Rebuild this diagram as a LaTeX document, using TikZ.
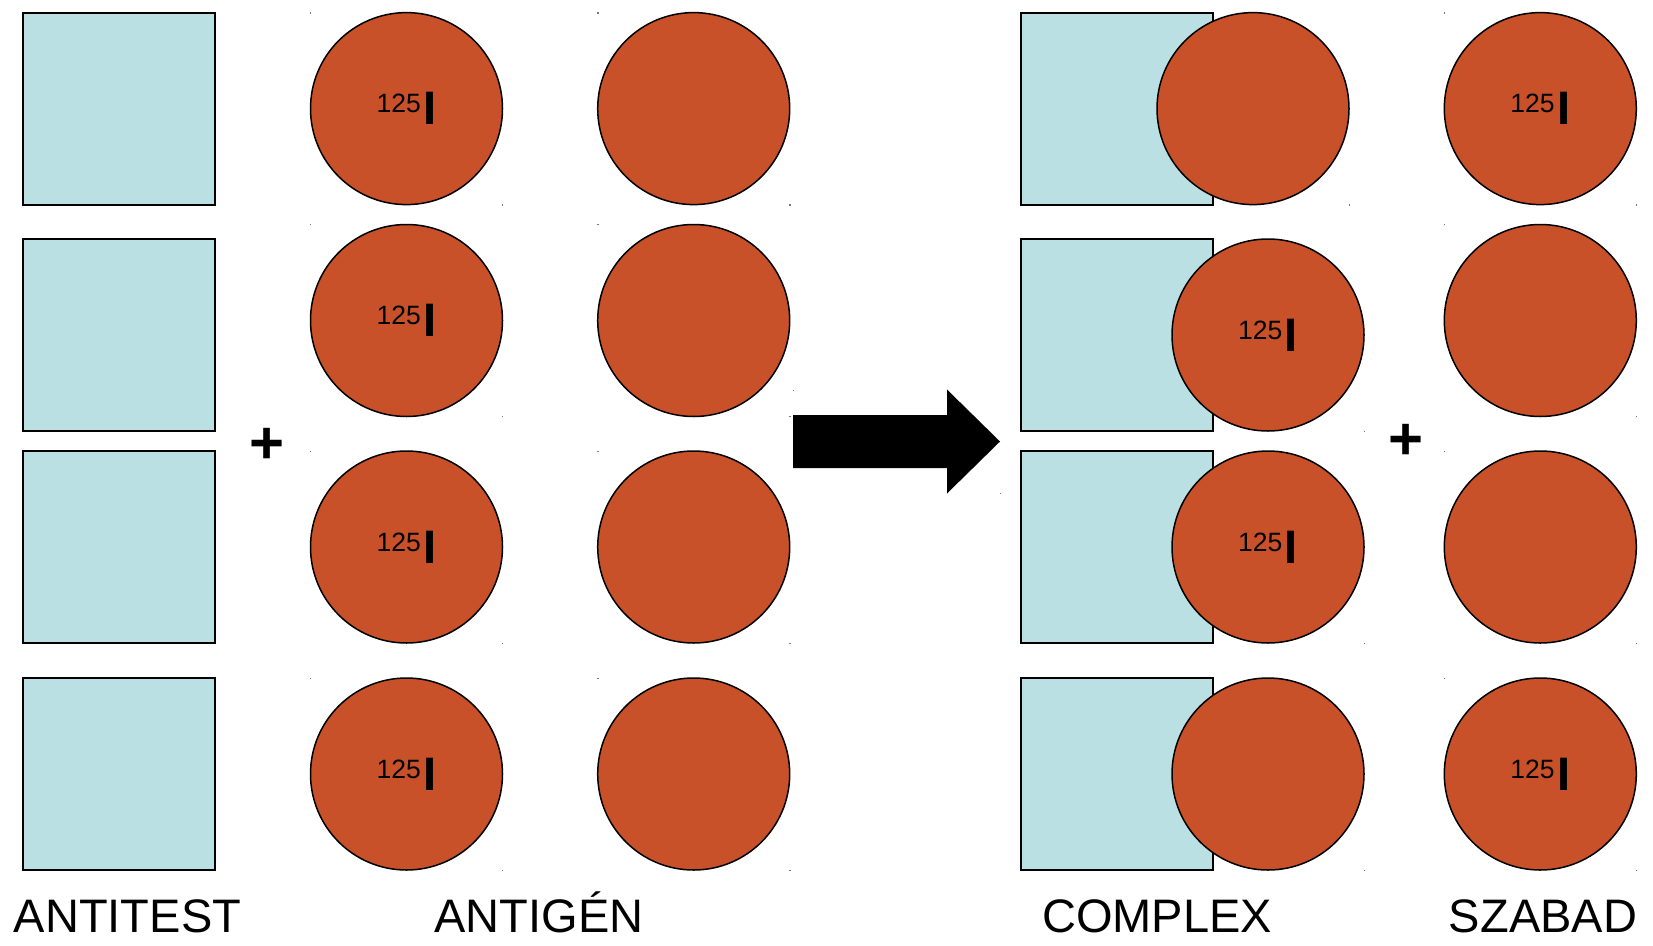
\documentclass[tikz,border=0pt]{standalone}
\usepackage{fontspec}
\setmainfont{Liberation Sans}
\definecolor{abblue}{RGB}{187,224,227}
\definecolor{agred}{RGB}{200,81,42}
\definecolor{dotgray}{RGB}{120,120,120}
\newcommand{\iodine}{{\fontsize{26.5}{26.5}\selectfont\raisebox{12pt}{125}}\kern2.5pt{\fontsize{47}{47}\selectfont\bfseries I}}
\begin{document}
\begin{tikzpicture}[x=1pt,y=-1pt,
  abbox/.style={draw=black,line width=2pt,fill=abblue,rectangle,minimum size=192pt,inner sep=0pt},
  agdisc/.style={draw=black,line width=1.5pt,fill=agred,circle,minimum size=192pt,inner sep=0pt,text=black},
  lbl/.style={anchor=base,inner sep=0pt,font=\fontsize{47}{47}\selectfont},
  plussign/.style={inner sep=0pt,font=\fontsize{60}{60}\selectfont\bfseries},
  cornerdot/.style={fill=dotgray}
]
\useasboundingbox[fill=white] (0,0) rectangle (1653,945);

% tiny bounding-box corner dots of the round shapes
\foreach \cx/\cy in {406.5/108.6,406.5/320.5,406.5/547,406.5/774,
                     693.7/108.6,693.7/320.5,693.7/547,693.7/774,
                     1540.3/108.6,1540.3/320.5,1540.3/547,1540.3/774,
                     1253/108.6,1268/335,1268/547,1268/774}{
  \fill[cornerdot] (\cx-96.5,\cy-96.5) rectangle ++(1.4,1.4);
  \fill[cornerdot] (\cx+95.5,\cy+95.5) rectangle ++(1.4,1.4);
}
\fill[cornerdot] (793,389.5) rectangle ++(1.4,1.4);
\fill[cornerdot] (999.5,492.5) rectangle ++(1.4,1.4);

% ANTITEST column
\node[abbox] (ab1) at (119,108.6) {};
\node[abbox] (ab2) at (119,335) {};
\node[abbox] (ab3) at (119,547) {};
\node[abbox] (ab4) at (119,774) {};

% labelled antigen column
\node[agdisc] (la1) at (406.5,108.6) {\iodine};
\node[agdisc] (la2) at (406.5,320.5) {\iodine};
\node[agdisc] (la3) at (406.5,547) {\iodine};
\node[agdisc] (la4) at (406.5,774) {\iodine};

% unlabelled antigen column
\node[agdisc] (ua1) at (693.7,108.6) {};
\node[agdisc] (ua2) at (693.7,320.5) {};
\node[agdisc] (ua3) at (693.7,547) {};
\node[agdisc] (ua4) at (693.7,774) {};

% plus signs
\node[plussign] (plusA) at (267.5,446) {+};
\node[plussign] (plusB) at (1406,442) {+};

% reaction arrow
\fill[black] (793,415) -- (947,415) -- (947,389.5) -- (1000,441.5) -- (947,493.5)
  -- (947,468) -- (793,468) -- cycle;

% COMPLEX column
\node[abbox] (cb1) at (1117,108.6) {};
\node[abbox] (cb2) at (1117,335) {};
\node[abbox] (cb3) at (1117,547) {};
\node[abbox] (cb4) at (1117,774) {};
\node[agdisc] (cg1) at (1253,108.6) {};
\node[agdisc] (cg2) at (1268,335) {\iodine};
\node[agdisc] (cg3) at (1268,547) {\iodine};
\node[agdisc] (cg4) at (1268,774) {};

% SZABAD column
\node[agdisc] (fr1) at (1540.3,108.6) {\iodine};
\node[agdisc] (fr2) at (1540.3,320.5) {};
\node[agdisc] (fr3) at (1540.3,547) {};
\node[agdisc] (fr4) at (1540.3,774) {\iodine};

% labels
\node[lbl] (tAntitest) at (127.5,932) {ANTITEST};
\node[lbl] (tAntigen) at (539,932) {ANTIGÉN};
\node[lbl] (tComplex) at (1157,932) {COMPLEX};
\node[lbl] (tSzabad) at (1543,932) {SZABAD};
\end{tikzpicture}
\end{document}
